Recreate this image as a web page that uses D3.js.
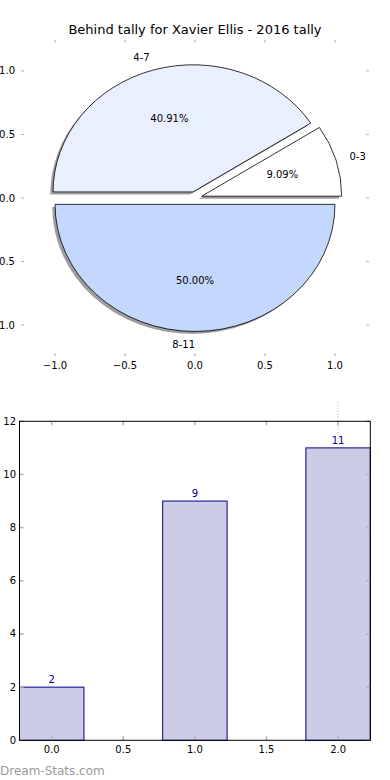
<!DOCTYPE html>
<html>
<head>
<meta charset="utf-8">
<script src="https://cdn.jsdelivr.net/npm/d3@7"></script>
<style>
  html, body { margin: 0; padding: 0; background: #fff; }
  svg { display: block; font-family: "DejaVu Sans", sans-serif; }
</style>
</head>
<body>
<svg id="chart" width="390" height="780"></svg>
<script>
// ---- data ----
const title = "Behind tally for Xavier Ellis - 2016 tally";
const pieLabels = ["0-3", "4-7", "8-11"];
const pieValues = [2, 9, 11];
const pieColors = ["#ffffff", "#e9effd", "#c4d7fc"];
const pieTicks = [-1.0, -0.5, 0.0, 0.5, 1.0];
const barX = [0, 1, 2];
const barValues = [2, 9, 11];
const barXTicks = [0.0, 0.5, 1.0, 1.5, 2.0];
const barYTicks = [0, 2, 4, 6, 8, 10, 12];
const watermark = "Dream-Stats.com";

const svg = d3.select("#chart");
const tickColor = "#b0b0b0";
const fmt1 = d => d3.format(".1f")(d).replace("-", "\u2212");

// ---- title ----
svg.append("text").attr("x", 195).attr("y", 34).attr("text-anchor", "middle")
  .attr("font-size", 13).attr("fill", "#000").text(title);

// ---- pie axes ----
const lim = 1.243;
const px = d3.scaleLinear().domain([-lim, lim]).range([21, 369]);
const py = d3.scaleLinear().domain([-lim, lim]).range([356, 40]);
const kx = px(1) - px(0), ky = py(0) - py(1);

const pieG = svg.append("g");
// ticks
pieTicks.forEach(t => {
  pieG.append("line").attr("x1", px(t)).attr("x2", px(t)).attr("y1", 40).attr("y2", 43)
    .attr("stroke", tickColor).attr("stroke-width", 1);
  pieG.append("line").attr("x1", px(t)).attr("x2", px(t)).attr("y1", 356).attr("y2", 353)
    .attr("stroke", tickColor).attr("stroke-width", 1);
  pieG.append("line").attr("y1", py(t)).attr("y2", py(t)).attr("x1", 21).attr("x2", 24)
    .attr("stroke", tickColor).attr("stroke-width", 1);
  pieG.append("line").attr("y1", py(t)).attr("y2", py(t)).attr("x1", 369).attr("x2", 366)
    .attr("stroke", tickColor).attr("stroke-width", 1);
  pieG.append("text").attr("x", px(t)).attr("y", 369).attr("text-anchor", "middle")
    .attr("font-size", 10).text(fmt1(t));
  pieG.append("text").attr("x", 15).attr("y", py(t)).attr("dy", "0.35em").attr("text-anchor", "end")
    .attr("font-size", 10).text(fmt1(t));
});

const explode = 0.05;
const pie = d3.pie().sort(null).startAngle(Math.PI / 2).endAngle(Math.PI / 2 - 2 * Math.PI);
const arcs = pie(pieValues);
const arcGen = d3.arc().innerRadius(0).outerRadius(1);
const midTheta = a => Math.PI / 2 - (a.startAngle + a.endAngle) / 2; // math angle

// shadows
arcs.forEach((a, i) => {
  const th = midTheta(a);
  const ox = explode * Math.cos(th) - 0.02, oy = explode * Math.sin(th) - 0.02;
  pieG.append("path")
    .attr("d", arcGen(a))
    .attr("transform", `translate(${px(ox)},${py(oy)}) scale(${kx},${ky})`)
    .attr("fill", "#000").attr("fill-opacity", 0.38);
});
// slices
arcs.forEach((a, i) => {
  const th = midTheta(a);
  const ox = explode * Math.cos(th), oy = explode * Math.sin(th);
  pieG.append("path")
    .attr("d", arcGen(a))
    .attr("transform", `translate(${px(ox)},${py(oy)}) scale(${kx},${ky})`)
    .attr("fill", pieColors[i]).attr("stroke", "#000").attr("stroke-width", 0.8)
    .attr("vector-effect", "non-scaling-stroke");
});
// labels
const total = d3.sum(pieValues);
arcs.forEach((a, i) => {
  const th = midTheta(a);
  const ox = explode * Math.cos(th), oy = explode * Math.sin(th);
  const lx = ox + 1.1 * Math.cos(th), ly = oy + 1.1 * Math.sin(th);
  pieG.append("text").attr("x", px(lx)).attr("y", py(ly)).attr("dy", "0.35em")
    .attr("text-anchor", Math.cos(th) < 0 ? "end" : "start")
    .attr("font-size", 10).text(pieLabels[i]);
  const tx = ox + 0.6 * Math.cos(th), ty = oy + 0.6 * Math.sin(th);
  pieG.append("text").attr("x", px(tx)).attr("y", py(ty)).attr("dy", "0.35em")
    .attr("text-anchor", "middle").attr("font-size", 10)
    .text((pieValues[i] / total * 100).toFixed(2) + "%");
});

// ---- bar chart ----
const bx = d3.scaleLinear().domain([-0.225, 2.225]).range([19.5, 370.3]);
const by = d3.scaleLinear().domain([0, 12]).range([740.3, 421.3]);
const barG = svg.append("g");
const barW = 0.45;

// dotted line at x=2
barG.append("line").attr("x1", bx(2)).attr("x2", bx(2)).attr("y1", 402).attr("y2", by(0))
  .attr("stroke", "#b4b4b4").attr("stroke-width", 1).attr("stroke-dasharray", "1,2");

barG.selectAll("rect.bar").data(barValues).enter().append("rect")
  .attr("class", "bar")
  .attr("x", (d, i) => bx(barX[i] - barW / 2))
  .attr("y", d => by(d))
  .attr("width", (d, i) => Math.min(bx(barX[i] + barW / 2), bx(2.225)) - bx(barX[i] - barW / 2))
  .attr("height", d => by(0) - by(d))
  .attr("fill", "#ccccE6").attr("fill-opacity", 1)
  .attr("stroke", "#00008b").attr("stroke-width", 1);

barG.selectAll("text.val").data(barValues).enter().append("text")
  .attr("class", "val")
  .attr("x", (d, i) => bx(barX[i]))
  .attr("y", d => by(d) - 4)
  .attr("text-anchor", "middle").attr("font-size", 10).attr("fill", "#00008b")
  .text(d => d);

// ticks
barXTicks.forEach(t => {
  barG.append("line").attr("x1", bx(t)).attr("x2", bx(t)).attr("y1", by(0)).attr("y2", by(0) - 4)
    .attr("stroke", tickColor).attr("stroke-width", 1.5);
  barG.append("line").attr("x1", bx(t)).attr("x2", bx(t)).attr("y1", by(12)).attr("y2", by(12) + 4)
    .attr("stroke", tickColor).attr("stroke-width", 1.5);
  barG.append("text").attr("x", bx(t)).attr("y", 753).attr("text-anchor", "middle")
    .attr("font-size", 10).text(t.toFixed(1));
});
barYTicks.forEach(t => {
  barG.append("line").attr("x1", 19.5).attr("x2", 23.5).attr("y1", by(t)).attr("y2", by(t))
    .attr("stroke", tickColor).attr("stroke-width", 1.5);
  barG.append("line").attr("x1", 370.3).attr("x2", 366.3).attr("y1", by(t)).attr("y2", by(t))
    .attr("stroke", tickColor).attr("stroke-width", 1.5);
  barG.append("text").attr("x", 16).attr("y", by(t)).attr("dy", "0.35em").attr("text-anchor", "end")
    .attr("font-size", 10).text(t);
});
// frame
barG.append("rect").attr("x", 19.5).attr("y", 421.3).attr("width", 370.3 - 19.5).attr("height", 740.3 - 421.3)
  .attr("fill", "none").attr("stroke", "#000").attr("stroke-width", 1);

// watermark
svg.append("text").attr("x", 0).attr("y", 775).attr("font-size", 12)
  .attr("fill", "#9a9a9a").text(watermark);
</script>
</body>
</html>
